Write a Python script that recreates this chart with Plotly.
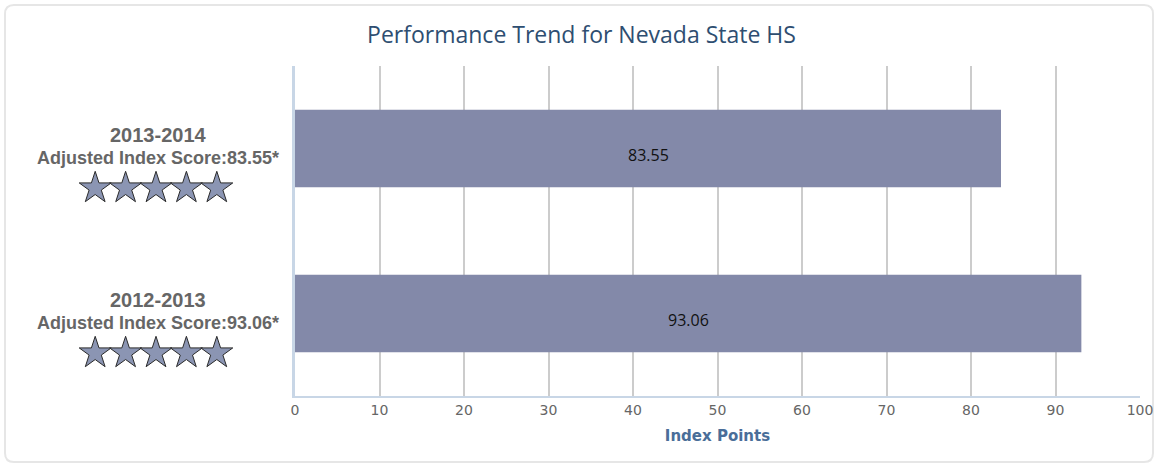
import plotly.graph_objects as go

years = ["2012-2013", "2013-2014"]
scores = [93.06, 83.55]
stars = [5, 5]
x_ticks = [0, 10, 20, 30, 40, 50, 60, 70, 80, 90, 100]

W, H = 1163, 466
L, R, T, B = 295, 1140, 66, 396

fig = go.Figure()
fig.add_trace(go.Bar(
    x=scores, y=list(range(len(years))), orientation="h", width=0.47,
    marker=dict(color="#8389A9", line=dict(width=0)),
    hoverinfo="skip", showlegend=False,
))

# bar value labels (slightly below bar centre, as in the reference)
for i, sc in enumerate(scores):
    fig.add_annotation(x=sc / 2, y=i - 0.04, xref="x", yref="y", text=f"{sc:.2f}",
                       showarrow=False, font=dict(family="Open Sans", size=16, color="#111111"))

# star ratings (left label area)
sx, sy = [], []
for i, n in enumerate(stars):
    for k in range(n):
        sx.append(156 + (k - (n - 1) / 2) * 30.4)
        sy.append(i - 0.24)
fig.add_trace(go.Scatter(
    x=sx, y=sy, xaxis="x2", yaxis="y", mode="markers",
    marker=dict(symbol="star", size=24, color="#8B95B3", line=dict(color="#2a2a2a", width=1)),
    hoverinfo="skip", showlegend=False, cliponaxis=False,
))

for i, (yr, sc) in enumerate(zip(years, scores)):
    fig.add_annotation(x=158, y=i + 0.08, xref="x2", yref="y", text=f"<b>{yr}</b>",
                       showarrow=False, font=dict(family="Liberation Sans", size=20, color="#666666"))
    fig.add_annotation(x=158, y=i - 0.06, xref="x2", yref="y",
                       text=f"<b>Adjusted Index Score:{sc:.2f}*</b>",
                       showarrow=False, font=dict(family="Liberation Sans", size=18, color="#666666"))

# rounded outer border
x0, x1 = 5 / W, 1153 / W
y0, y1 = 1 - 462 / H, 1 - 5 / H
rx, ry = 9 / W, 9 / H
path = (f"M{x0+rx},{y1} L{x1-rx},{y1} Q{x1},{y1} {x1},{y1-ry} L{x1},{y0+ry} Q{x1},{y0} {x1-rx},{y0} "
        f"L{x0+rx},{y0} Q{x0},{y0} {x0},{y0+ry} L{x0},{y1-ry} Q{x0},{y1} {x0+rx},{y1} Z")
fig.add_shape(type="path", path=path, xref="paper", yref="paper",
              line=dict(color="#e6e6e6", width=2), layer="below")

fig.update_layout(
    width=W, height=H, autosize=False,
    margin=dict(l=0, r=0, t=0, b=0, autoexpand=False),
    paper_bgcolor="white", plot_bgcolor="white",
    title=dict(text="Performance Trend for Nevada State HS", x=0.5, xanchor="center",
               y=1 - 35 / H, yanchor="middle", font=dict(family="Open Sans", size=23, color="#2E4E71")),
    xaxis=dict(domain=[L / W, R / W], range=[0, 100], tickvals=x_ticks,
               showgrid=True, gridcolor="#cccccc", gridwidth=2, zeroline=False,
               showline=True, linecolor="#c8d6e6", linewidth=2, ticks="",
               tickfont=dict(family="DejaVu Sans", size=14, color="#666666"),
               title=dict(text="<b>Index Points</b>", standoff=14,
                          font=dict(family="DejaVu Sans", size=15, color="#4A6E99")),
               fixedrange=True, anchor="y", automargin=False),
    xaxis2=dict(domain=[0, L / W], range=[0, L], visible=False, anchor="y", fixedrange=True,
                automargin=False),
    yaxis=dict(domain=[1 - B / H, 1 - T / H], range=[-0.5, 1.5], showticklabels=False,
               showgrid=False, zeroline=False, showline=True, linecolor="#c8d6e6", linewidth=3,
               ticks="", fixedrange=True, anchor="x", automargin=False),
    bargap=0.5,
)

fig.write_html("out.html", config={"displayModeBar": False, "responsive": False},
               post_script="document.body.style.margin='0';document.body.style.overflow='hidden';")
